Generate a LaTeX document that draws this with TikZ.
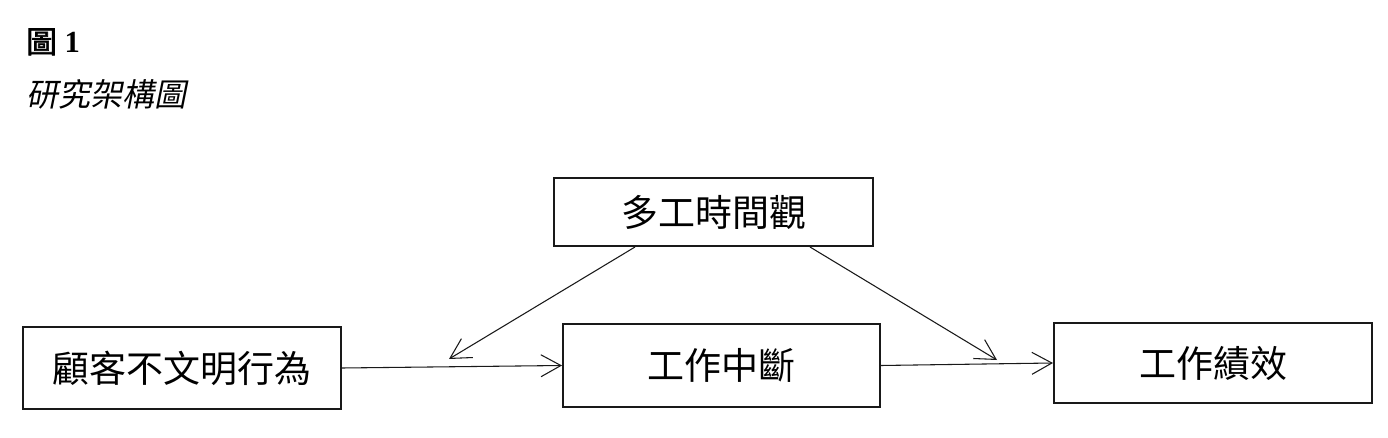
\documentclass[tikz,border=0pt]{standalone}
\usepackage{fontspec}
\setmainfont{Liberation Serif}
\newfontfamily\cjk{Noto Sans CJK TC}
\newfontfamily\cjkbold{Noto Sans CJK TC}[FakeBold=2]
\newfontfamily\cjkslant{Noto Sans CJK TC}[FakeSlant=0.2]
\usetikzlibrary{arrows.meta,calc}
\begin{document}
\begin{tikzpicture}[x=0.75pt,y=-0.75pt,
  box/.style={draw=black!90,line width=1.5pt,fill=white,inner sep=0pt,
    font=\cjk\fontsize{27.75pt}{30pt}\selectfont},
  link/.style={draw=black!90,line width=0.8pt,
    -{Straight Barb[length=15pt,width=16.5pt,line width=0.8pt]}}]
\useasboundingbox (0,0) rectangle (1388,438);
\node[anchor=base west,inner sep=0pt] (fig) at (26,53)
  {\fontsize{23pt}{26pt}\selectfont{\cjkbold 圖} \textbf{1}};
\node[anchor=base west,inner sep=0pt] (cap) at (26,107)
  {\cjkslant\fontsize{24pt}{28pt}\selectfont 研究架構圖};
\node[box,minimum width=238.5pt,minimum height=61.5pt] (b1) at (182,368) {顧客不文明行為};
\node[box,minimum width=237.75pt,minimum height=62.25pt] (b2) at (721.5,365.5) {工作中斷};
\node[box,minimum width=238.5pt,minimum height=60pt] (b3) at (1213,363) {工作績效};
\node[box,minimum width=239.25pt,minimum height=51pt] (t) at (713.5,212) {多工時間觀};
\coordinate (m1) at (449,359);
\coordinate (m2) at (997,360);
\draw[link] (b1.east) -- (b2.west);
\draw[link] (b2.east) -- (b3.west);
\draw[link] ($(t.south)+(-78.5,0)$) -- (m1);
\draw[link] ($(t.south)+(96.5,0)$) -- (m2);
\end{tikzpicture}
\end{document}
